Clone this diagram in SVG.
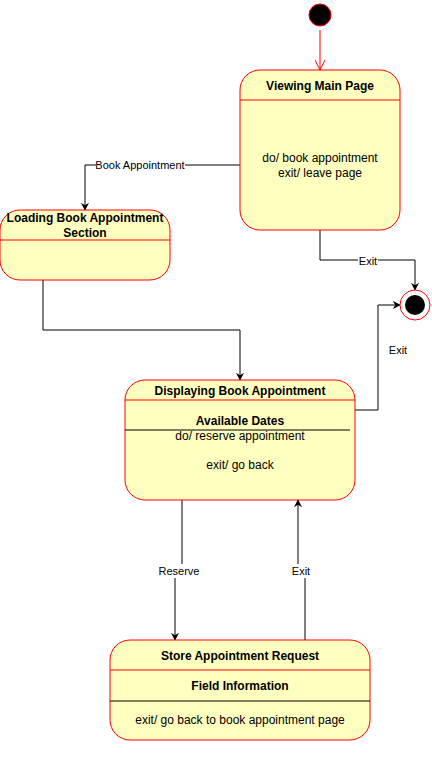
<svg xmlns="http://www.w3.org/2000/svg" width="432" height="761" viewBox="0 0 432 761">
<defs>
<style>
.st{fill:#FFFFC0;stroke:#FF0000;stroke-width:1}
.div{stroke:#FF0000;stroke-width:1;fill:none}
.bl{stroke:#000;stroke-width:1;fill:none}
.t{font-family:"Liberation Sans",Arial,sans-serif;font-size:12px;fill:#000;text-anchor:middle}
.b{font-weight:bold}
.lbl{font-family:"Liberation Sans",Arial,sans-serif;font-size:11px;fill:#000;text-anchor:middle}
.e{stroke:#000;stroke-width:1;fill:none;marker-end:url(#ah)}
</style>
<marker id="ah" viewBox="0 0 10 10" refX="9" refY="5" markerWidth="8" markerHeight="8" orient="auto" markerUnits="userSpaceOnUse">
<path d="M0,0 L10,5 L0,10 L3,5 z" fill="#000"/>
</marker>
<marker id="oh" viewBox="0 0 10 10" refX="10" refY="5" markerWidth="10" markerHeight="10" orient="auto" markerUnits="userSpaceOnUse">
<path d="M0,0 L10,5 L0,10" fill="none" stroke="#FF0000" stroke-width="1"/>
</marker>
</defs>
<rect width="432" height="761" fill="#fff"/>
<g id="connectors">
<path d="M320 30 V70" stroke="#FF0000" fill="none" marker-end="url(#oh)"/>
<path class="e" d="M240 165 H85 V210"/>
<rect x="96" y="159" width="89" height="13" fill="#fff"/>
<text class="lbl" x="140" y="169">Book Appointment</text>
<path class="e" d="M43 280 V330 H240 V380"/>
<path class="e" d="M320 230 V260 H415 V290"/>
<rect x="358" y="255" width="20" height="12" fill="#fff"/>
<text class="lbl" x="368" y="265">Exit</text>
<path class="e" d="M355 410 H378 V305 H400"/>
<text class="lbl" x="398" y="354">Exit</text>
<path class="e" d="M182 500 V571 H175 V640"/>
<rect x="157" y="564" width="44" height="14" fill="#fff"/>
<text class="lbl" x="179" y="575">Reserve</text>
<path class="e" d="M305 640 V571 H298 V500"/>
<rect x="290" y="564" width="22" height="14" fill="#fff"/>
<text class="lbl" x="301" y="575">Exit</text>
</g>
<g id="initial">
<circle cx="320" cy="15" r="11" fill="#000" stroke="#FF0000"/>
</g>
<g id="final">
<circle cx="415" cy="305" r="15" fill="#fff" stroke="#FF0000"/>
<circle cx="415" cy="305" r="10" fill="#000"/>
</g>
<g id="viewing">
<rect class="st" x="240" y="70" width="160" height="160" rx="20" ry="20"/>
<line class="div" x1="240" y1="100" x2="400" y2="100"/>
<text class="t b" x="320" y="90">Viewing Main Page</text>
<text class="t" x="320" y="162">do/ book appointment</text>
<text class="t" x="320" y="177">exit/ leave page</text>
</g>
<g id="loading">
<rect class="st" x="0" y="210" width="170" height="70" rx="20" ry="20"/>
<line class="div" x1="0" y1="240" x2="170" y2="240"/>
<text class="t b" x="85" y="222">Loading Book Appointment</text>
<text class="t b" x="85" y="237">Section</text>
</g>
<g id="displaying">
<rect class="st" x="125" y="380" width="230" height="120" rx="20" ry="20"/>
<line class="div" x1="125" y1="400" x2="355" y2="400"/>
<text class="t b" x="240" y="395">Displaying Book Appointment</text>
<text class="t b" x="240" y="425">Available Dates</text>
<line class="bl" x1="125" y1="430" x2="350" y2="430"/>
<text class="t" x="240" y="440">do/ reserve appointment</text>
<text class="t" x="240" y="469">exit/ go back</text>
</g>
<g id="store">
<rect class="st" x="110" y="640" width="260" height="100" rx="20" ry="20"/>
<line class="div" x1="110" y1="670" x2="370" y2="670"/>
<text class="t b" x="240" y="660">Store Appointment Request</text>
<text class="t b" x="240" y="690">Field Information</text>
<line class="bl" x1="110" y1="701" x2="370" y2="701"/>
<text class="t" x="240" y="724">exit/ go back to book appointment page</text>
</g>
</svg>
